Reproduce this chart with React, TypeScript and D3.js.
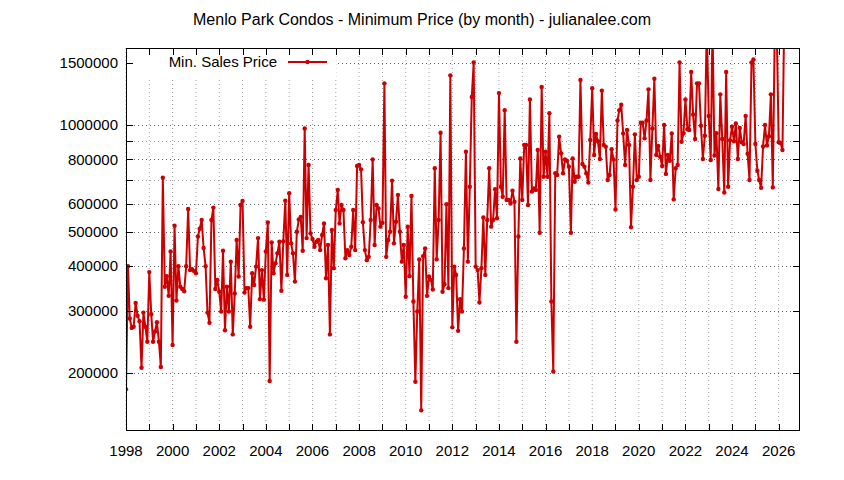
import React from "react";
import * as d3 from "d3";

const chartTitle = "Menlo Park Condos - Minimum Price (by month) - julianalee.com";
const seriesName = "Min. Sales Price";
const firstYear = 1998;
const lastDate = [2026, 11]; // year, month index of right edge

// Monthly minimum sale price, starting January 1998
const prices: number[] = [
  // 1998
  180000, 400000, 285000, 268000, 270000, 315000, 290000, 280000, 207000, 296000, 270000, 245000,
  // 1999
  385000, 293000, 245000, 262000, 278000, 245000, 208000, 710000, 350000, 375000, 330000, 440000,
  // 2000
  240000, 520000, 320000, 400000, 350000, 345000, 340000, 400000, 580000, 390000, 392000, 388000,
  // 2001
  382000, 485000, 510000, 540000, 450000, 400000, 296000, 277000, 540000, 585000, 345000, 366000,
  // 2002
  339000, 298000, 442000, 264000, 350000, 298000, 412000, 257000, 335000, 474000, 374000, 595000,
  // 2003
  611000, 337000, 347000, 347000, 270000, 382000, 354000, 399000, 480000, 323000, 390000, 322000,
  // 2004
  440000, 531000, 190000, 467000, 382000, 408000, 435000, 469000, 341000, 470000, 612000, 378000,
  // 2005
  642000, 464000, 435000, 362000, 500000, 542000, 551000, 442000, 978000, 480000, 771000, 495000,
  // 2006
  477000, 454000, 469000, 474000, 444000, 490000, 528000, 370000, 459000, 257000, 506000, 395000,
  // 2007
  576000, 656000, 528000, 595000, 576000, 421000, 444000, 430000, 454000, 576000, 444000, 766000,
  // 2008
  771000, 750000, 532000, 444000, 416000, 425000, 540000, 800000, 459000, 595000, 582000, 517000,
  // 2009
  530000, 1310000, 425000, 474000, 500000, 697000, 464000, 534000, 635000, 500000, 412000, 459000,
  // 2010
  328000, 517000, 375000, 631000, 318000, 189000, 298000, 418000, 157000, 427000, 449000, 330000,
  // 2011
  374000, 366000, 344000, 755000, 418000, 540000, 951000, 339000, 356000, 598000, 347000, 1380000,
  // 2012
  269000, 399000, 378000, 263000, 323000, 298000, 449000, 841000, 412000, 670000, 1200000, 1500000,
  // 2013
  399000, 390000, 316000, 395000, 549000, 378000, 540000, 755000, 517000, 540000, 659000, 546000,
  // 2014
  1230000, 670000, 628000, 1100000, 615000, 615000, 601000, 653000, 608000, 245000, 485000, 805000,
  // 2015
  615000, 878000, 878000, 595000, 1180000, 649000, 663000, 656000, 850000, 497000, 1280000, 715000,
  // 2016
  841000, 715000, 1080000, 318000, 202000, 731000, 723000, 927000, 832000, 731000, 800000, 793000,
  // 2017
  763000, 497000, 805000, 692000, 715000, 715000, 1340000, 776000, 763000, 731000, 688000, 907000,
  // 2018
  1270000, 823000, 943000, 900000, 802000, 1250000, 878000, 869000, 700000, 723000, 854000, 800000,
  // 2019
  578000, 1030000, 1100000, 1140000, 947000, 771000, 968000, 878000, 515000, 670000, 941000, 700000,
  // 2020
  715000, 1015000, 1015000, 917000, 1030000, 1260000, 700000, 978000, 1350000, 823000, 873000, 814000,
  // 2021
  766000, 1000000, 728000, 823000, 793000, 947000, 617000, 755000, 771000, 1500000, 897000, 947000,
  // 2022
  1180000, 972000, 968000, 1410000, 1070000, 913000, 1310000, 1310000, 995000, 802000, 933000, 1900000,
  // 2023
  1060000, 797000, 1900000, 820000, 948000, 660000, 1220000, 913000, 645000, 1410000, 670000, 905000,
  // 2024
  989000, 900000, 1010000, 802000, 981000, 894000, 884000, 1060000, 830000, 700000, 1500000, 1530000,
  // 2025
  884000, 743000, 700000, 665000, 870000, 1000000, 875000, 930000, 1220000, 667000, 1900000, 1900000,
  // 2026
  894000, 890000, 850000, 2200000,
];

const yTickValues = [200000, 300000, 400000, 500000, 600000, 700000, 800000, 900000, 1000000, 1500000];
const yLabelValues = [200000, 300000, 400000, 500000, 600000, 800000, 1000000, 1500000];
const xLabelYears = [1998, 2000, 2002, 2004, 2006, 2008, 2010, 2012, 2014, 2016, 2018, 2020, 2022, 2024, 2026];
const yDomain = [137300, 1648000];

const FONT = "'Liberation Sans', Arial, sans-serif";
const RED = "#cc0000";

export default function App() {
  const L = 126, R = 800, T = 48, B = 431;
  const x = d3.scaleTime()
    .domain([new Date(firstYear, 0, 1), new Date(lastDate[0], lastDate[1], 1)])
    .range([L, R]);
  const y = d3.scaleLog().domain(yDomain).range([B, T]);

  const data = prices.map((v, i) => ({ date: new Date(firstYear, i, 1), v }));
  const line = d3.line<{ date: Date; v: number }>()
    .x((d) => x(d.date))
    .y((d) => y(d.v));

  const years = d3.range(firstYear, lastDate[0] + 1);
  const tick = 7;

  return (
    <svg
      width={844}
      height={480}
      style={{ position: "absolute", left: 0, top: 0, display: "block", background: "#fff" }}
      fontFamily={FONT}
    >
      <rect x={0} y={0} width={844} height={480} fill="#fff" />
      <defs>
        <clipPath id="plotclip">
          <rect x={L} y={T} width={R - L} height={B - T} />
        </clipPath>
      </defs>
      {/* title */}
      <text x={422} y={25} textAnchor="middle" fontSize={16} fill="#000">
        {chartTitle}
      </text>

      {/* grid */}
      <g>
        {years.map((yr) => (
          <line
            key={"vg" + yr}
            x1={x(new Date(yr, 0, 1))}
            x2={x(new Date(yr, 0, 1))}
            y1={T}
            y2={B}
            stroke="#a0a0a0"
            strokeWidth={1}
            strokeDasharray="1,3"
          />
        ))}
        {yTickValues.map((v) => (
          <line
            key={"hg" + v}
            x1={L}
            x2={R}
            y1={Math.round(y(v)) + 0.5}
            y2={Math.round(y(v)) + 0.5}
            stroke={yLabelValues.includes(v) ? "#606060" : "#a0a0a0"}
            strokeWidth={1}
            strokeDasharray="1,3"
          />
        ))}
      </g>

      {/* legend background */}
      <rect x={L + 1} y={T + 1} width={209} height={28} fill="#fff" />

      {/* data */}
      <g clipPath="url(#plotclip)">
        <path d={line(data) || ""} fill="none" stroke={RED} strokeWidth={2} strokeLinejoin="round" />
        {data.map((d, i) => (
          <circle key={i} cx={x(d.date)} cy={y(d.v)} r={2.2} fill={RED} />
        ))}
      </g>

      {/* frame */}
      <rect x={L + 0.5} y={T + 0.5} width={R - L - 1} height={B - T - 1} fill="none" stroke="#000" strokeWidth={1} />

      {/* x ticks */}
      {years.map((yr) => {
        const px = Math.round(x(new Date(yr, 0, 1))) + 0.5;
        return (
          <g key={"xt" + yr}>
            <line x1={px} x2={px} y1={B} y2={B - tick} stroke="#000" />
            <line x1={px} x2={px} y1={T} y2={T + tick} stroke="#000" />
          </g>
        );
      })}
      {xLabelYears.map((yr) => (
        <text key={"xl" + yr} x={x(new Date(yr, 0, 1))} y={456} textAnchor="middle" fontSize={15} fill="#000">
          {yr}
        </text>
      ))}

      {/* y ticks */}
      {yTickValues.map((v) => {
        const py = Math.round(y(v)) + 0.5;
        return (
          <g key={"yt" + v}>
            <line x1={L} x2={L + tick} y1={py} y2={py} stroke="#000" />
            <line x1={R} x2={R - tick} y1={py} y2={py} stroke="#000" />
          </g>
        );
      })}
      {yLabelValues.map((v) => (
        <text key={"yl" + v} x={118} y={y(v)} dy="0.35em" textAnchor="end" fontSize={15} fill="#000">
          {v}
        </text>
      ))}

      {/* legend */}
      <text x={277} y={62} dy="0.35em" textAnchor="end" fontSize={15} fill="#000">
        {seriesName}
      </text>
      <line x1={288} x2={327} y1={62} y2={62} stroke={RED} strokeWidth={2} />
      <circle cx={307.5} cy={62} r={2.2} fill={RED} />
    </svg>
  );
}
